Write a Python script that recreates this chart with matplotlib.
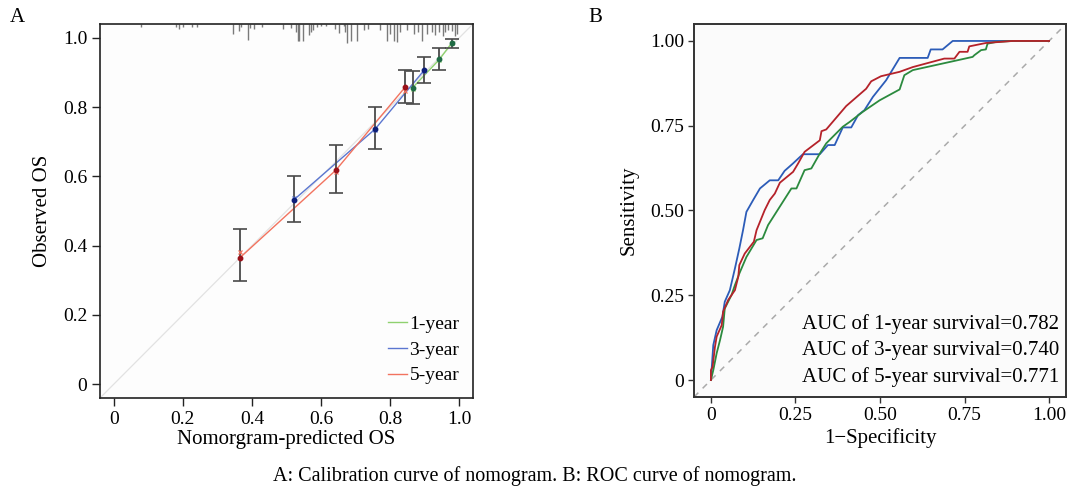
import numpy as np
import matplotlib
matplotlib.use("Agg")
import matplotlib.pyplot as plt

plt.rcParams['font.family'] = ['Liberation Serif', 'DejaVu Serif']
plt.rcParams['axes.unicode_minus'] = True

# calibration points (predicted, observed, CI low, CI high, bias-corrected)
cal1_pred = [0.865, 0.943, 0.979]
cal1_obs = [0.856, 0.938, 0.986]
cal1_lo = [0.809, 0.908, 0.970]
cal1_hi = [0.904, 0.971, 0.997]
cal1_corr = [0.852, 0.935, 0.984]

cal3_pred = [0.521, 0.757, 0.899]
cal3_obs = [0.532, 0.737, 0.907]
cal3_lo = [0.467, 0.680, 0.870]
cal3_hi = [0.602, 0.799, 0.946]
cal3_corr = [0.538, 0.733, 0.903]

cal5_pred = [0.365, 0.643, 0.843]
cal5_obs = [0.365, 0.618, 0.857]
cal5_lo = [0.299, 0.552, 0.811]
cal5_hi = [0.447, 0.692, 0.908]
cal5_corr = [0.383, 0.612, 0.846]

# distribution of predictions shown along the top
rug_x = [0.078, 0.180, 0.188, 0.200, 0.226, 0.241, 0.345, 0.362, 0.368, 0.388, 0.394, 0.406, 0.429,
         0.490, 0.513, 0.528, 0.533, 0.536, 0.548, 0.565, 0.571, 0.577, 0.588, 0.600, 0.614,
         0.641, 0.652, 0.667, 0.670, 0.674, 0.686, 0.705, 0.723, 0.737,
         0.771, 0.790, 0.800, 0.810, 0.819, 0.829, 0.848, 0.868, 0.882, 0.892,
         0.906, 0.921, 0.930, 0.943, 0.954, 0.959, 0.969, 0.979, 0.988, 0.993]
rug_h = [0.009, 0.009, 0.014, 0.009, 0.009, 0.009, 0.029, 0.020, 0.009, 0.046, 0.012, 0.014, 0.009,
         0.014, 0.012, 0.023, 0.049, 0.049, 0.049, 0.032, 0.023, 0.017, 0.009, 0.006, 0.006,
         0.014, 0.026, 0.006, 0.023, 0.055, 0.049, 0.049, 0.017, 0.014,
         0.017, 0.049, 0.029, 0.049, 0.052, 0.023, 0.017, 0.029, 0.023, 0.049,
         0.029, 0.023, 0.032, 0.023, 0.035, 0.023, 0.017, 0.020, 0.035, 0.029]

# ROC curves
roc1_fpr = [0, 0.002, 0.007, 0.017, 0.034, 0.041, 0.056, 0.071, 0.084, 0.095, 0.105, 0.125, 0.145, 0.174,
            0.199, 0.218, 0.243, 0.272, 0.322, 0.346, 0.366, 0.390, 0.415, 0.435, 0.454, 0.479, 0.518,
            0.558, 0.641, 0.650, 0.685, 0.715, 1.0]
roc1_tpr = [0, 0.029, 0.103, 0.147, 0.187, 0.231, 0.265, 0.329, 0.388, 0.442, 0.496, 0.531, 0.565, 0.589,
            0.589, 0.617, 0.639, 0.666, 0.666, 0.693, 0.693, 0.745, 0.745, 0.781, 0.796, 0.835, 0.884,
            0.950, 0.950, 0.975, 0.975, 1.0, 1.0]
roc3_fpr = [0, 0.007, 0.017, 0.027, 0.036, 0.041, 0.061, 0.071, 0.084, 0.105, 0.135, 0.153, 0.169, 0.238,
            0.253, 0.277, 0.297, 0.322, 0.341, 0.390, 0.410, 0.449, 0.499, 0.558, 0.567, 0.572, 0.597,
            0.774, 0.779, 0.799, 0.813, 0.818, 0.843, 0.892, 1.0]
roc3_tpr = [0, 0.029, 0.079, 0.118, 0.157, 0.211, 0.251, 0.280, 0.314, 0.363, 0.413, 0.418, 0.457, 0.565,
            0.565, 0.619, 0.624, 0.668, 0.698, 0.747, 0.761, 0.791, 0.825, 0.857, 0.884, 0.899, 0.914,
            0.953, 0.958, 0.973, 0.975, 0.992, 0.997, 1.0, 1.0]
roc5_fpr = [0, 0, 0.005, 0.012, 0.017, 0.032, 0.036, 0.051, 0.071, 0.081, 0.084, 0.100, 0.127, 0.135,
            0.159, 0.174, 0.189, 0.204, 0.243, 0.258, 0.277, 0.322, 0.327, 0.341, 0.400, 0.459, 0.474,
            0.503, 0.558, 0.597, 0.690, 0.720, 0.735, 0.759, 0.764, 0.813, 0.892, 1.0]
roc5_tpr = [0, 0.029, 0.039, 0.098, 0.128, 0.162, 0.201, 0.236, 0.265, 0.305, 0.339, 0.373, 0.408, 0.442,
            0.501, 0.531, 0.550, 0.582, 0.614, 0.639, 0.673, 0.707, 0.734, 0.739, 0.808, 0.859, 0.881,
            0.896, 0.909, 0.923, 0.948, 0.948, 0.968, 0.968, 0.984, 0.994, 1.0, 1.0]

auc_labels = ["AUC of 1-year survival=0.782", "AUC of 3-year survival=0.740", "AUC of 5-year survival=0.771"]
legend_labels = ["1-year", "3-year", "5-year"]
a_ticks = [0, 0.2, 0.4, 0.6, 0.8, 1.0]
a_ticklabels = ["0", "0.2", "0.4", "0.6", "0.8", "1.0"]
b_ticks = [0, 0.25, 0.5, 0.75, 1.0]
b_ticklabels = ["0", "0.25", "0.50", "0.75", "1.00"]

W, H = 1069, 490
fig = plt.figure(figsize=(W / 100, H / 100), dpi=100)

# ---------- panel A: calibration ----------
ax1 = fig.add_axes([100 / W, 1 - 398 / H, 373 / W, 374 / H])
ax1.set_facecolor('#fdfdfd')
ax1.plot([-0.04, 1.04], [-0.04, 1.04], color='#e2e2e2', lw=0.9, zorder=1)
ax1.vlines(rug_x, 1.04 - np.array(rug_h), 1.04, colors='#7a7a7a', lw=1.0, zorder=2)

series = [
    (cal1_pred, cal1_obs, cal1_lo, cal1_hi, cal1_corr, '#8fd16f', '#1f6b45'),
    (cal3_pred, cal3_obs, cal3_lo, cal3_hi, cal3_corr, '#5b76d0', '#0d1f7a'),
    (cal5_pred, cal5_obs, cal5_lo, cal5_hi, cal5_corr, '#f2735f', '#9a1018'),
]
for (p, o, lo, hi, corr, lc, pc), lab in zip(series, legend_labels):
    p = np.array(p); o = np.array(o)
    ax1.plot(p, o, color=lc, lw=1.0, zorder=3, label=lab)
    ax1.errorbar(p, o, yerr=[o - np.array(lo), np.array(hi) - o], fmt='none',
                 ecolor='#4a4a4a', elinewidth=1.3, capsize=5, capthick=1.2, zorder=4)
    ax1.plot(p, corr, 'x', color=lc, ms=3.5, mew=0.9, zorder=5)
    ax1.plot(p, o, 'o', color=pc, ms=3.2, zorder=6)

ax1.set_xlim(-0.04, 1.04)
ax1.set_ylim(-0.04, 1.04)
ax1.set_xticks(a_ticks)
ax1.set_xticklabels(a_ticklabels)
ax1.set_yticks(a_ticks)
ax1.set_yticklabels(a_ticklabels)
ax1.tick_params(direction='out', length=6, width=1.0, labelsize=14, pad=3, color='#222222')
for s in ax1.spines.values():
    s.set_linewidth(1.2)
    s.set_color('#222222')
ax1.set_xlabel('Nomorgram-predicted OS', fontsize=15, labelpad=2)
ax1.set_ylabel('Observed OS', fontsize=15, labelpad=8)
ax1.legend(loc='lower right', frameon=False, fontsize=14, handlelength=1.0,
           handletextpad=0.1, labelspacing=0.42, borderaxespad=0.3)

# ---------- panel B: ROC ----------
ax2 = fig.add_axes([694 / W, 1 - 397 / H, 372 / W, 373 / H])
ax2.set_facecolor('#fbfbfb')
ax2.axline((0, 0), slope=1, color='#aaaaaa', lw=1.1, ls=(0, (4, 4)), zorder=1)
ax2.plot(roc3_fpr, roc3_tpr, color='#2b8a3e', lw=1.3, zorder=3)
ax2.plot(roc5_fpr, roc5_tpr, color='#b5222a', lw=1.3, zorder=4)
ax2.plot(roc1_fpr, roc1_tpr, color='#2c5cb8', lw=1.3, zorder=2)
ax2.set_xlim(-0.05, 1.05)
ax2.set_ylim(-0.05, 1.05)
ax2.set_xticks(b_ticks)
ax2.set_xticklabels(b_ticklabels)
ax2.set_yticks(b_ticks)
ax2.set_yticklabels(b_ticklabels)
ax2.tick_params(direction='out', length=4, width=1.0, labelsize=14, pad=3, color='#333333')
for s in ax2.spines.values():
    s.set_linewidth(1.4)
    s.set_color('#333333')
ax2.set_xlabel('1\u2212Specificity', fontsize=15, labelpad=3)
ax2.set_ylabel('Sensitivity', fontsize=15, labelpad=8)
for i, t in enumerate(auc_labels):
    ax2.text(1.03, 0.165 - i * 0.078, t, ha='right', va='center', fontsize=15)

# ---------- labels ----------
fig.text(10 / W, 1 - 18 / H, 'A', fontsize=15, va='center')
fig.text(588 / W, 1 - 18 / H, 'B', fontsize=15, va='center')
fig.text(535 / W, 1 - 476 / H, 'A: Calibration curve of nomogram. B: ROC curve of nomogram.',
         fontsize=14.5, ha='center', va='center')

fig.savefig('out.png', dpi=100)
